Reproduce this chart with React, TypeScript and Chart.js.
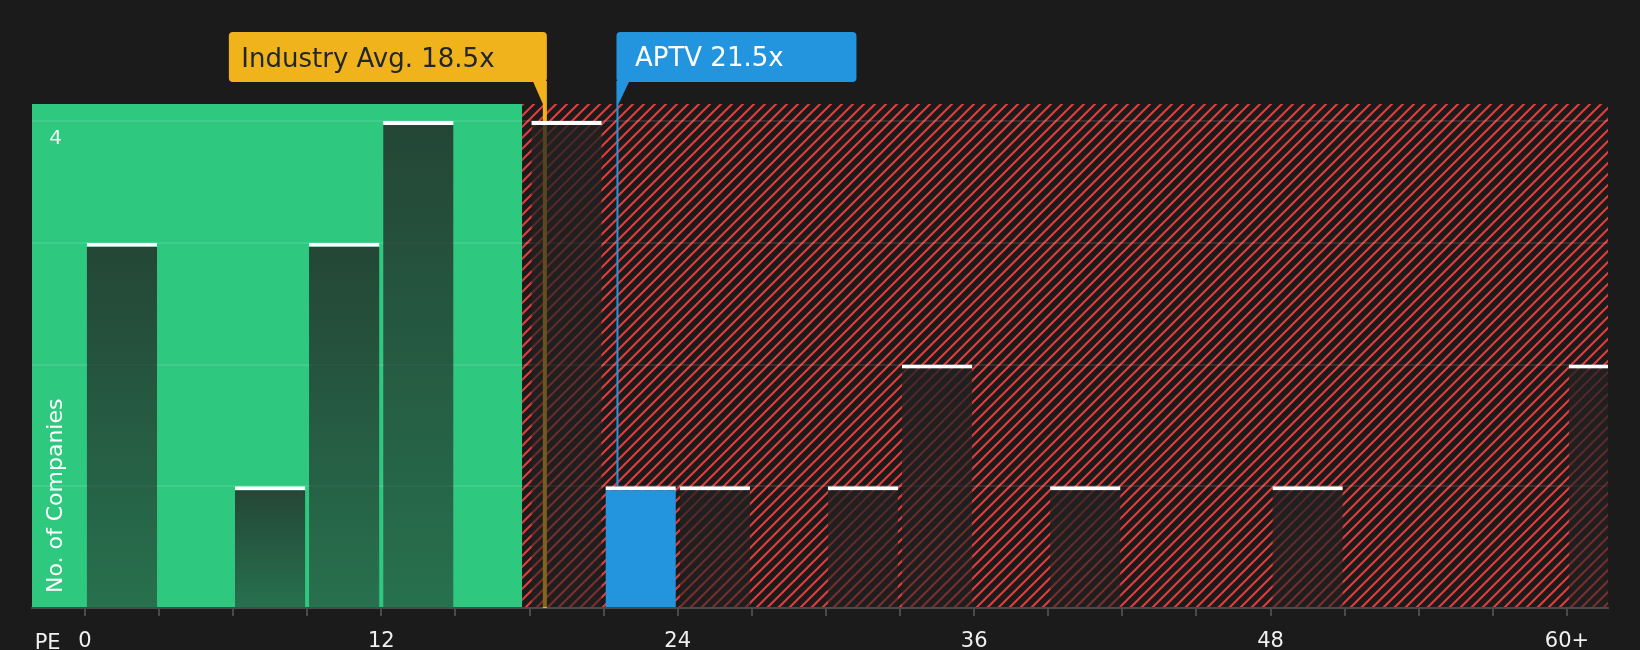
import React, { useEffect, useRef } from "react";
import { Chart, registerables } from "chart.js";

Chart.register(...registerables);

// ---- data ----
const binStarts = [0, 3, 6, 9, 12, 15, 18, 21, 24, 27, 30, 33, 36, 39, 42, 45, 48, 51, 54, 57, 60];
const companyCounts = [3, 0, 1, 3, 4, 0, 4, 1, 1, 0, 1, 2, 0, 1, 0, 0, 1, 0, 0, 0, 2];
const tickValues = [0, 12, 24, 36, 48, 60];
const tickLabels = ["0", "12", "24", "36", "48", "60+"];
const yGridValues = [0, 1, 2, 3, 4];
const yLabelValues = [4];
const binWidth = 3;
const industryAvg = 18.5;
const companyPE = 21.5;
const companyName = "APTV";
const industryLabel = "Industry Avg. 18.5x";
const companyLabel = "APTV 21.5x";
const goodZoneEnd = 17.7;
const xMin = -2.14;
const xMax = 61.66;
const yMax = 4.14;

// ---- style ----
const FONT = '"DejaVu Sans", "Noto Sans", sans-serif';
const BG = "#1b1b1b";
const GREEN = "#2ec87f";
const RED = "#e03c3c";
const GOLD = "#f0b31b";
const BLUE = "#2394de";

const companyIndex = binStarts.findIndex((s) => companyPE >= s && companyPE < s + binWidth);

function makeHatch(ctx: CanvasRenderingContext2D) {
  const n = 11;
  const c = document.createElement("canvas");
  c.width = n;
  c.height = n;
  const g = c.getContext("2d")!;
  g.fillStyle = BG;
  g.fillRect(0, 0, n, n);
  g.strokeStyle = RED;
  g.lineWidth = 2.2;
  g.beginPath();
  // stripes along x + y = 0, n, 2n (bottom-left to top-right)
  [0, n, 2 * n].forEach((k) => {
    g.moveTo(k - n - 2, n + 2);
    g.lineTo(k + 2 + 0, -2 + 0 - (k - k));
  });
  g.stroke();
  return ctx.createPattern(c, "repeat")!;
}

const decorPlugin = {
  id: "decor",
  beforeDraw(chart: any) {
    const { ctx, chartArea: a, scales } = chart;
    const xs = scales.x;
    ctx.save();
    ctx.fillStyle = BG;
    ctx.fillRect(0, 0, chart.width, chart.height);
    const gEnd = xs.getPixelForValue(goodZoneEnd);
    ctx.fillStyle = GREEN;
    ctx.fillRect(a.left, a.top, gEnd - a.left, a.bottom - a.top);
    ctx.fillStyle = makeHatch(ctx);
    ctx.fillRect(gEnd, a.top, a.right - gEnd, a.bottom - a.top);
    ctx.restore();
  },
  beforeDatasetsDraw(chart: any) {
    const { ctx, chartArea: a, scales } = chart;
    const xs = scales.x;
    const ys = scales.y;
    ctx.save();
    const indX = xs.getPixelForValue(industryAvg);
    ctx.fillStyle = GOLD;
    ctx.fillRect(indX + 1, a.top, 4, a.bottom - a.top);
    const apX = xs.getPixelForValue(companyPE);
    const barTop = ys.getPixelForValue(companyCounts[companyIndex]);
    ctx.fillStyle = BLUE;
    ctx.fillRect(apX + 0.5, a.top, 2, barTop - a.top);
    ctx.restore();
  },
  afterDraw(chart: any) {
    const { ctx, chartArea: a, scales } = chart;
    const xs = scales.x;
    const ys = scales.y;
    ctx.save();
    const boxTop = a.top - 72;
    const boxBottom = a.top - 22;

    // industry callout
    const indX = xs.getPixelForValue(industryAvg);
    const indRight = indX + 5;
    const indLeft = indRight - 318;
    ctx.fillStyle = GOLD;
    ctx.beginPath();
    (ctx as any).roundRect(indLeft, boxTop, indRight - indLeft, boxBottom - boxTop, 4);
    ctx.fill();
    ctx.beginPath();
    ctx.moveTo(indRight - 14, boxBottom - 1);
    ctx.lineTo(indRight, boxBottom - 1);
    ctx.lineTo(indRight, a.top);
    ctx.lineTo(indRight - 4, a.top);
    ctx.closePath();
    ctx.fill();
    ctx.fillStyle = "#1f2630";
    ctx.font = `26px ${FONT}`;
    ctx.textAlign = "left";
    ctx.textBaseline = "alphabetic";
    ctx.fillText(industryLabel, indLeft + 12.5, boxTop + 34.7);

    // company callout
    const apX = xs.getPixelForValue(companyPE);
    const apLeft = apX + 0.5;
    ctx.fillStyle = BLUE;
    ctx.beginPath();
    (ctx as any).roundRect(apLeft, boxTop, 240, boxBottom - boxTop, 4);
    ctx.fill();
    ctx.beginPath();
    ctx.moveTo(apLeft, boxBottom - 1);
    ctx.lineTo(apLeft + 13, boxBottom - 1);
    ctx.lineTo(apLeft + 2, a.top);
    ctx.lineTo(apLeft, a.top);
    ctx.closePath();
    ctx.fill();
    ctx.fillStyle = "#ffffff";
    ctx.fillText(companyLabel, apLeft + 18.5, boxTop + 33.9);

    // y labels
    ctx.font = `20px ${FONT}`;
    ctx.textAlign = "center";
    ctx.fillStyle = "#f0f0f0";
    yLabelValues.forEach((v) => {
      ctx.fillText(String(v), a.left + 23.5, ys.getPixelForValue(v) + 23);
    });

    // y title
    ctx.save();
    ctx.translate(a.left + 30, a.bottom - 15);
    ctx.rotate(-Math.PI / 2);
    ctx.font = `22px ${FONT}`;
    ctx.textAlign = "left";
    ctx.fillStyle = "#ffffff";
    ctx.fillText("No. of Companies", 0, 0);
    ctx.restore();

    // PE label
    ctx.font = `21px ${FONT}`;
    ctx.textAlign = "left";
    ctx.fillStyle = "#f0f0f0";
    ctx.fillText("PE", 34.7, a.bottom + 41);
    ctx.restore();
  },
};

export default function App() {
  const ref = useRef<HTMLCanvasElement>(null);
  useEffect(() => {
    document.body.style.margin = "0";
    document.body.style.background = BG;
    const canvas = ref.current!;
    const chart = new Chart(canvas, {
      type: "bar",
      data: {
        datasets: [
          {
            label: companyName,
            data: binStarts.map((s, i) => ({ x: s + binWidth / 2, y: companyCounts[i] })),
            backgroundColor: (c: any) => {
              if (c.dataIndex === companyIndex) return BLUE;
              const chart = c.chart;
              if (!chart.chartArea || !chart.scales.y) return "rgba(33,33,33,0.65)";
              const v = companyCounts[c.dataIndex];
              const top = chart.scales.y.getPixelForValue(v);
              const bottom = chart.scales.y.getPixelForValue(0);
              if (!(bottom > top)) return "rgba(33,33,33,0.65)";
              const g = chart.ctx.createLinearGradient(0, top, 0, bottom);
              g.addColorStop(0, "rgba(33,33,33,0.78)");
              g.addColorStop(1, "rgba(33,33,33,0.52)");
              return g;
            },
            borderColor: "#ffffff",
            borderWidth: { top: 4, right: 0, bottom: 0, left: 0 },
            borderSkipped: false,
            barPercentage: 0.95,
            categoryPercentage: 1,
          } as any,
        ],
      },
      options: {
        animation: false,
        responsive: false,
        devicePixelRatio: 1,
        layout: { padding: { left: 32, right: 32, top: 104, bottom: 0 } },
        plugins: { legend: { display: false }, tooltip: { enabled: false } },
        scales: {
          x: {
            type: "linear",
            min: xMin,
            max: xMax,
            offset: false,
            afterBuildTicks: (s: any) => {
              s.ticks = binStarts.map((v) => ({ value: v }));
            },
            afterFit: (s: any) => {
              s.height = 42;
            },
            ticks: {
              autoSkip: false,
              maxRotation: 0,
              color: "#f0f0f0",
              font: { family: FONT, size: 21 },
              padding: 13,
              callback: (v: any) => {
                const i = tickValues.indexOf(Number(v));
                return i >= 0 ? tickLabels[i] : "";
              },
            },
            grid: {
              offset: false,
              drawOnChartArea: false,
              drawTicks: true,
              tickLength: 8,
              color: "#4a4a4a",
              lineWidth: 2,
            },
            border: { display: true, color: "#4a4a4a", width: 2 },
          },
          y: {
            min: 0,
            max: yMax,
            afterBuildTicks: (s: any) => {
              s.ticks = yGridValues.map((v) => ({ value: v }));
            },
            afterFit: (s: any) => {
              s.width = 0;
            },
            ticks: { display: false },
            grid: { color: "rgba(255,255,255,0.1)", lineWidth: 2, drawTicks: false },
            border: { display: false },
          },
        } as any,
      },
      plugins: [decorPlugin as any],
    });
    return () => chart.destroy();
  }, []);
  return (
    <div style={{ width: 1640, height: 650, background: BG }}>
      <canvas ref={ref} width={1640} height={650} style={{ display: "block" }} />
    </div>
  );
}
